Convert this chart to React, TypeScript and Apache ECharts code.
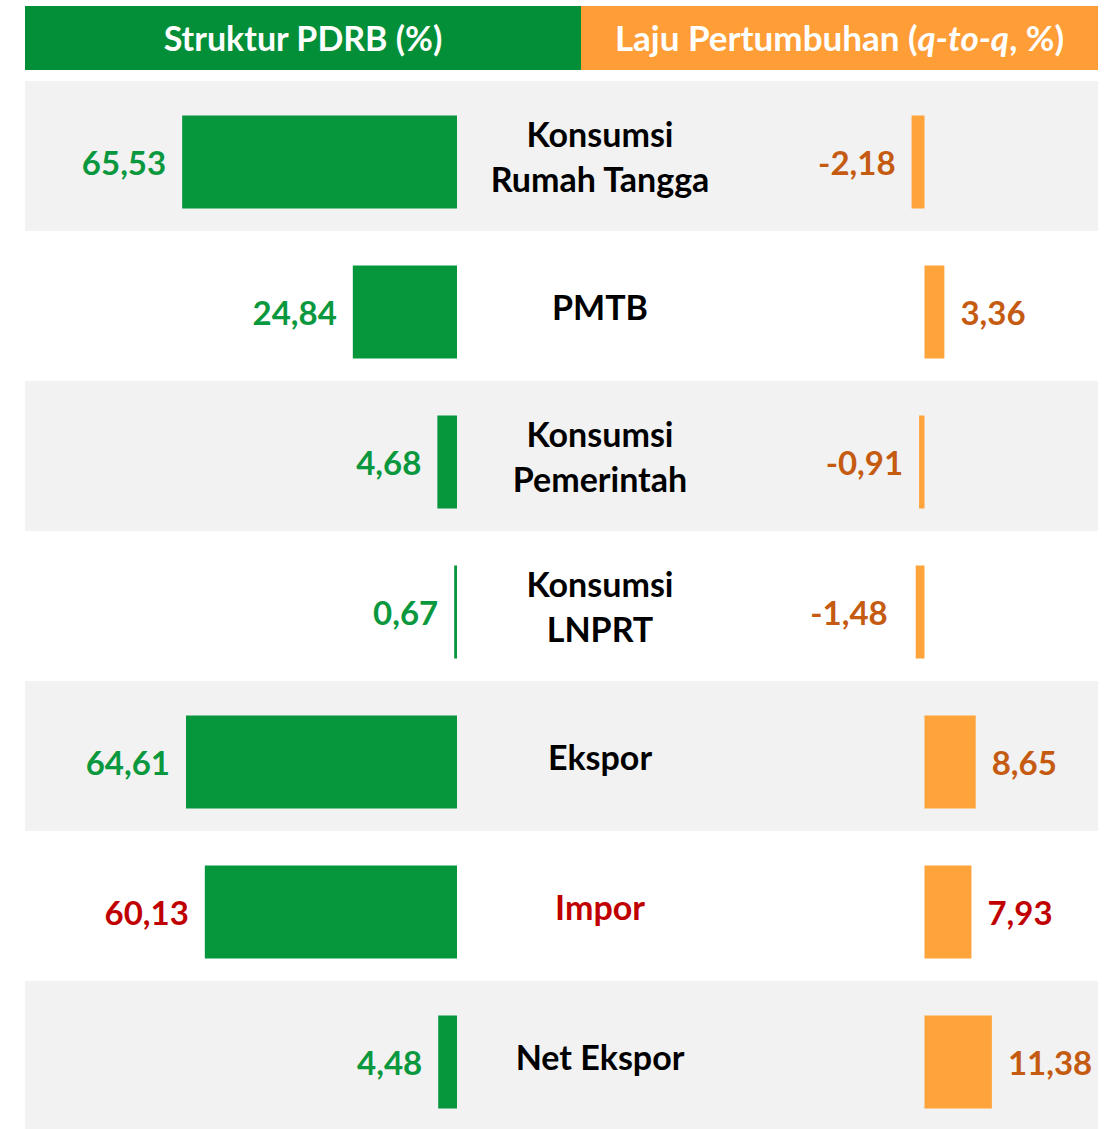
import React, { useEffect, useRef } from "react";
import * as echarts from "echarts";

const categories = [
  "Konsumsi\nRumah Tangga",
  "PMTB",
  "Konsumsi\nPemerintah",
  "Konsumsi\nLNPRT",
  "Ekspor",
  "Impor",
  "Net Ekspor",
];
const struktur = [65.53, 24.84, 4.68, 0.67, 64.61, 60.13, 4.48];
const laju = [-2.18, 3.36, -0.91, -1.48, 8.65, 7.93, 11.38];
const lajuLabelGap = [16, 16, 16, 28, 16, 16, 16];
const headerLeft = "Struktur PDRB (%)";
const headerRight = ["Laju Pertumbuhan (", "q-to-q", ", %)"];
const highlight = "Impor";

const FONT = "Lato";
const GREEN_BAR = "#06963c";
const GREEN_TXT = "#0a983e";
const ORANGE_BAR = "#ffa33b";
const ORANGE_TXT = "#c55a11";
const RED = "#c00000";

const fmt = (v: number) => v.toFixed(2).replace(".", ",");

export default function App() {
  const ref = useRef<HTMLDivElement>(null);
  useEffect(() => {
    if (!ref.current) return;
    const chart = echarts.init(ref.current, undefined, { renderer: "svg" });
    const gridTop = 81;
    const gridH = 1050;
    const barTop = 87;
    const labelBox = 320;
    const option: any = {
      animation: false,
      backgroundColor: "#ffffff",
      textStyle: { fontFamily: FONT },
      grid: [
        { left: 25, width: 1073, top: gridTop, height: gridH, outerBoundsMode: "none", containLabel: false },
        { left: 25, width: 432, top: barTop, height: gridH, outerBoundsMode: "none", containLabel: false },
        { left: 581, width: 517, top: barTop, height: gridH, outerBoundsMode: "none", containLabel: false },
      ],
      xAxis: [
        { gridIndex: 0, type: "value", show: false, min: 0, max: 1 },
        { gridIndex: 1, type: "value", show: false, inverse: true, min: 0, max: 103 },
        { gridIndex: 2, type: "value", show: false, min: -58, max: 29.3 },
      ],
      yAxis: [
        {
          gridIndex: 0,
          type: "category",
          inverse: true,
          position: "left",
          data: categories,
          axisLine: { show: false },
          axisTick: { show: false },
          splitLine: { show: false },
          splitArea: { show: true, areaStyle: { color: ["#f2f2f2", "#ffffff"] } },
          axisLabel: {
            margin: -(600 - 25 + labelBox / 2),
            verticalAlign: "middle",
            formatter: (v: string) => {
              const k = v === highlight ? "r" : "c";
              return v
                .split("\n")
                .map((l) => `{${k}|${l}}`)
                .join("\n");
            },
            rich: {
              c: {
                width: labelBox,
                align: "center",
                color: "#000000",
                fontFamily: FONT,
                fontSize: 34,
                fontWeight: "bold",
                lineHeight: 45,
              },
              r: {
                width: labelBox,
                align: "center",
                color: RED,
                fontFamily: FONT,
                fontSize: 34,
                fontWeight: "bold",
                lineHeight: 45,
              },
            },
          },
        },
        {
          gridIndex: 1,
          type: "category",
          inverse: true,
          data: categories,
          show: false,
        },
        {
          gridIndex: 2,
          type: "category",
          inverse: true,
          data: categories,
          show: false,
        },
      ],
      series: [
        {
          type: "bar",
          xAxisIndex: 1,
          yAxisIndex: 1,
          barWidth: 93,
          data: struktur.map((v, i) => ({
            value: v,
            label: { color: categories[i] === highlight ? RED : GREEN_TXT },
          })),
          itemStyle: { color: GREEN_BAR },
          label: {
            show: true,
            position: "left",
            distance: 16,
            formatter: (p: any) => fmt(p.value),
            fontFamily: FONT,
            fontSize: 33,
            fontWeight: "bold",
          },
        },
        {
          type: "bar",
          xAxisIndex: 2,
          yAxisIndex: 2,
          barWidth: 93,
          data: laju.map((v, i) => ({
            value: v,
            label: {
              position: v < 0 ? "left" : "right",
              distance: lajuLabelGap[i],
              color: categories[i] === highlight ? RED : ORANGE_TXT,
            },
          })),
          itemStyle: { color: ORANGE_BAR },
          label: {
            show: true,
            formatter: (p: any) => fmt(p.value),
            fontFamily: FONT,
            fontSize: 33,
            fontWeight: "bold",
          },
        },
      ],
      graphic: [
        {
          type: "rect",
          shape: { x: 25, y: 6, width: 556, height: 64 },
          style: { fill: "#028f38" },
        },
        {
          type: "rect",
          shape: { x: 581, y: 6, width: 517, height: 64 },
          style: { fill: "#ff9d37" },
        },
        {
          type: "text",
          x: 303,
          y: 37,
          style: {
            text: headerLeft,
            fill: "#ffffff",
            font: `bold 34px ${FONT}`,
            align: "center",
            verticalAlign: "middle",
          },
        },
        {
          type: "text",
          x: 839.5,
          y: 37,
          style: {
            text: `{a|${headerRight[0]}}{b|${headerRight[1]}}{a|${headerRight[2]}}`,
            align: "center",
            verticalAlign: "middle",
            rich: {
              a: { fill: "#ffffff", fontFamily: FONT, fontWeight: "bold", fontSize: 35 },
              b: {
                fill: "#ffffff",
                fontFamily: FONT,
                fontWeight: "bold",
                fontStyle: "italic",
                fontSize: 35,
              },
            },
          },
        },
      ],
    };
    chart.setOption(option);
    return () => chart.dispose();
  }, []);
  return (
    <div
      ref={ref}
      style={{ position: "absolute", left: 0, top: 0, width: 1107, height: 1129 }}
    />
  );
}
